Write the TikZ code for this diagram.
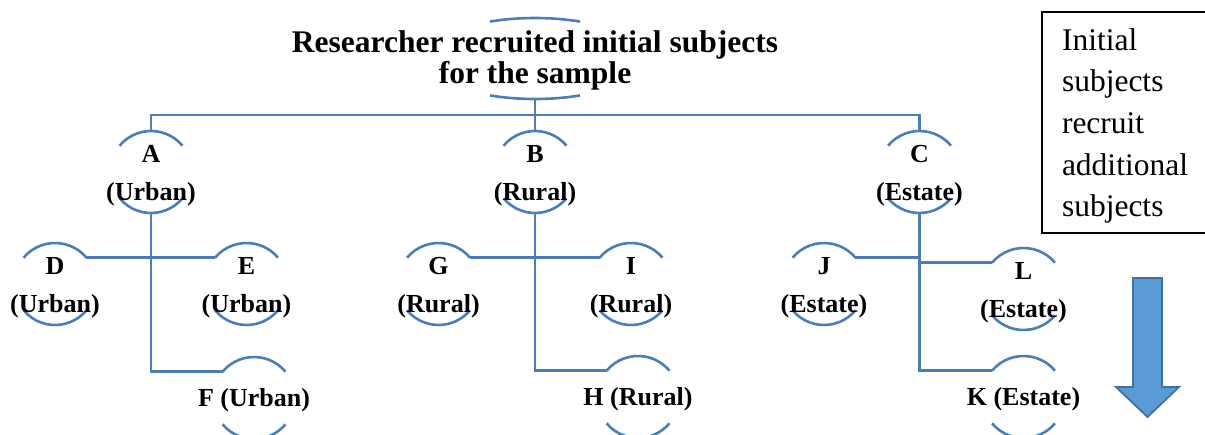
\documentclass[tikz,border=0pt]{standalone}
\usepackage{fontspec}
\setmainfont{Liberation Serif}
\usetikzlibrary{shapes.geometric,calc}
\definecolor{lnblue}{RGB}{74,126,187}
\definecolor{arrfill}{RGB}{91,155,213}
\definecolor{arrdraw}{RGB}{65,113,156}
\newcommand\twol[2]{\begin{tabular}[t]{@{}c@{}}#1\\#2\end{tabular}}
\begin{document}
\begin{tikzpicture}[x=1pt,y=-1pt,
  ln/.style={draw=lnblue,line width=2.6pt},
  hub/.style={circle,minimum size=82pt,inner sep=0pt,outer sep=0pt,draw=none},
  lab/.style={inner sep=0pt,outer sep=0pt,anchor=base,font=\fontsize{26}{38}\selectfont\bfseries},
  ttl/.style={inner sep=0pt,outer sep=0pt,anchor=base,font=\fontsize{31.5}{31.5}\selectfont\bfseries},
  notetext/.style={inner sep=0pt,outer sep=0pt,anchor=base west,font=\fontsize{31.5}{41.7}\selectfont},
  notebox/.style={draw=black,line width=1.4pt,rectangle,inner sep=0pt,outer sep=0pt,anchor=north west,minimum width=190pt,minimum height=221pt},
  bigarrow/.style={fill=arrfill,draw=arrdraw,line width=1.8pt,line join=miter}]
\useasboundingbox (0,0) rectangle (1205,434);

% root
\node[ellipse,minimum width=220pt,minimum height=81pt,inner sep=0pt,outer sep=0pt,draw=none] (root) at (535,58.5) {};
\node[ttl] (title) at (535,52) {\begin{tabular}[t]{@{}c@{}}Researcher recruited initial subjects\\for the sample\end{tabular}};
\draw[ln] (root.center) ++(245.85:110 and 40.5) arc[start angle=245.85,end angle=294.15,x radius=110,y radius=40.5];
\draw[ln] (root.center) ++(114.15:110 and 40.5) arc[start angle=114.15,end angle=65.85,x radius=110,y radius=40.5];

% hubs
\node[hub] (A) at (151,172) {};
\node[hub] (B) at (535,172) {};
\node[hub] (C) at (919.5,172) {};
\node[hub] (D) at (55,284) {};
\node[hub] (E) at (246.5,284) {};
\node[hub] (F) at (254,398) {};
\node[hub] (G) at (438.5,284) {};
\node[hub] (I) at (631,284) {};
\node[hub] (H) at (638,397) {};
\node[hub] (J) at (824,284) {};
\node[hub] (L) at (1023.5,289) {};
\node[hub] (K) at (1023.5,397) {};

\foreach \n in {A,B,C,D,E,F,G,I,H,J,L,K}{
  \draw[ln] (\n.140) arc[start angle=220,end angle=320,radius=41];
  \draw[ln] (\n.220) arc[start angle=140,end angle=40,radius=41];
}

% labels
\node[lab] (A-t) at ([yshift=10pt]A.center) {\twol{A}{(Urban)}};
\node[lab] (B-t) at ([yshift=10pt]B.center) {\twol{B}{(Rural)}};
\node[lab] (C-t) at ([yshift=10pt]C.center) {\twol{C}{(Estate)}};
\node[lab] (D-t) at ([yshift=10pt]D.center) {\twol{D}{(Urban)}};
\node[lab] (E-t) at ([yshift=10pt]E.center) {\twol{E}{(Urban)}};
\node[lab] (G-t) at ([yshift=10pt]G.center) {\twol{G}{(Rural)}};
\node[lab] (I-t) at ([yshift=10pt]I.center) {\twol{I}{(Rural)}};
\node[lab] (J-t) at ([yshift=10pt]J.center) {\twol{J}{(Estate)}};
\node[lab] (L-t) at ([yshift=10pt]L.center) {\twol{L}{(Estate)}};
\node[lab] (F-t) at ([yshift=-8pt]F.center) {F (Urban)};
\node[lab] (H-t) at ([yshift=-8pt]H.center) {H (Rural)};
\node[lab] (K-t) at ([yshift=-8pt]K.center) {K (Estate)};

% connectors
\coordinate (bus) at ($(root.south)+(0,16)$);
\draw[ln] (root.south) -- (bus);
\draw[ln] (A.north) -- (A.north |- bus) -- (C.north |- bus) -- (C.north);
\draw[ln] (B.north) -- (B.north |- bus);
\draw[ln] (A.south) |- (F.140);
\draw[ln] (D.40) -- (E.140);
\draw[ln] (B.south) |- (H.140);
\draw[ln] (G.40) -- (I.140);
\draw[ln] (C.south) |- (K.140);
\draw[ln] (J.40) -- (J.40 -| C.south);
\draw[ln] (L.140 -| C.south) -- (L.140);

% note box
\node[notebox] (box) at (1042,12) {};
\node[notetext] (note) at (1062,50) {\begin{tabular}[t]{@{}l@{}}Initial\\subjects\\recruit\\additional\\subjects\end{tabular}};

% arrow
\draw[bigarrow] (1133,278) -- (1162,278) -- (1162,387) -- (1179,387) -- (1147.5,417) -- (1116,387) -- (1133,387) -- cycle;
\end{tikzpicture}
\end{document}
